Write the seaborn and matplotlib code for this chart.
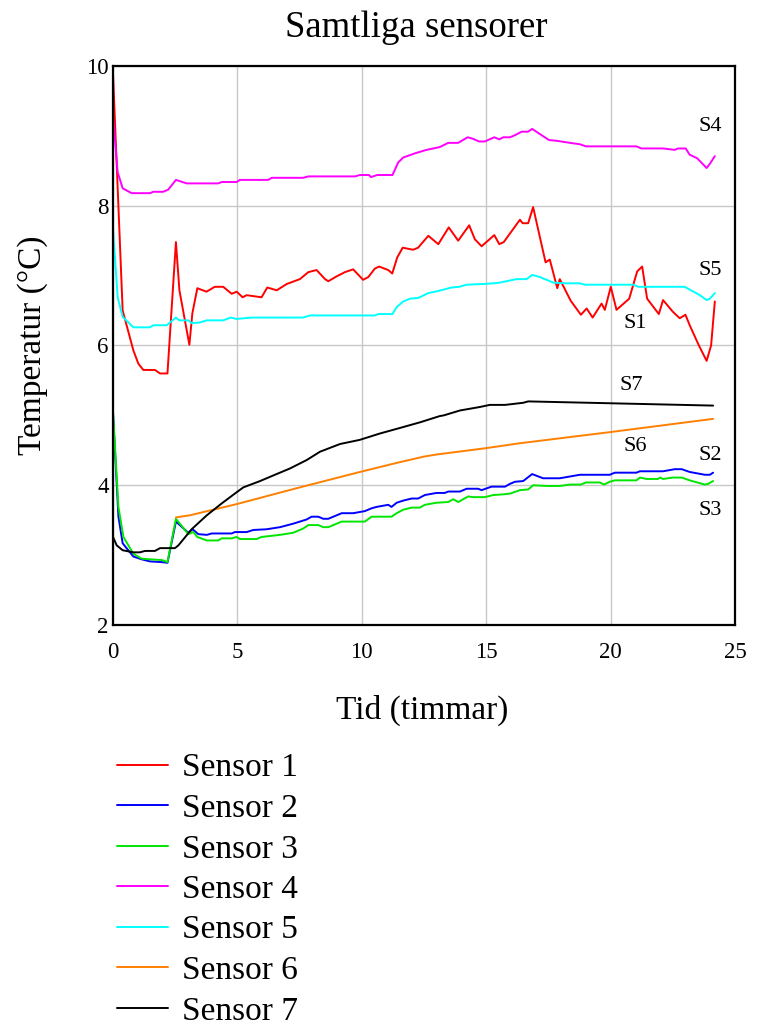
import matplotlib
matplotlib.use("Agg")
import matplotlib.pyplot as plt
from matplotlib.lines import Line2D
import seaborn as sns
import pandas as pd

# ---------------- data ----------------
s1_time = [0, 0.4, 0.83, 1.03, 1.23, 1.7, 1.9, 2.2, 2.54, 2.68,
           3.08, 3.2, 3.4, 3.77, 4.1, 4.44, 4.78, 4.98, 5.22, 5.38,
           5.98, 6.21, 6.59, 6.99, 7.52, 7.86, 8.19, 8.53, 8.66, 9.0,
           9.33, 9.66, 10.06, 10.27, 10.53, 10.7, 11.07, 11.23, 11.43, 11.65,
           12.07, 12.27, 12.68, 13.08, 13.5, 13.88, 14.32, 14.55, 14.82, 15.33,
           15.53, 15.71, 16.36, 16.47, 16.69, 16.89, 17.39, 17.56, 17.86, 17.96,
           18.4, 18.81, 19.04, 19.28, 19.64, 19.77, 20.01, 20.24, 20.75, 21.07,
           21.27, 21.47, 21.94, 22.11, 22.51, 22.78, 23.01, 23.18, 23.55, 23.86,
           24.04, 24.19]
s1_temp = [10, 6.5, 5.93, 5.74, 5.65, 5.65, 5.6, 5.6, 7.48, 6.79,
           6.01, 6.46, 6.82, 6.77, 6.84, 6.84, 6.74, 6.77, 6.69, 6.72,
           6.69, 6.83, 6.79, 6.88, 6.95, 7.05, 7.08, 6.95, 6.92, 6.99,
           7.05, 7.09, 6.94, 6.98, 7.1, 7.13, 7.08, 7.03, 7.26, 7.4,
           7.37, 7.4, 7.57, 7.45, 7.69, 7.5, 7.72, 7.52, 7.42, 7.58,
           7.45, 7.48, 7.8, 7.75, 7.75, 7.98, 7.19, 7.23, 6.82, 6.95,
           6.64, 6.44, 6.53, 6.4, 6.6, 6.51, 6.84, 6.51, 6.67, 7.06,
           7.13, 6.67, 6.45, 6.65, 6.48, 6.39, 6.44, 6.29, 6.0, 5.78,
           6.0, 6.63]

s2_time = [0, 0.23, 0.4, 0.83, 1.16, 1.5, 1.97, 2.2, 2.54, 3.04,
           3.21, 3.44, 3.78, 3.98, 4.78, 4.91, 5.38, 5.65, 6.18, 6.72,
           7.25, 7.79, 7.99, 8.26, 8.46, 8.66, 9.2, 9.66, 10.13, 10.4,
           10.6, 11.07, 11.2, 11.41, 11.67, 12.01, 12.27, 12.54, 13.01, 13.34,
           13.48, 13.95, 14.22, 14.68, 14.82, 15.22, 15.76, 15.96, 16.16, 16.49,
           16.85, 17.29, 17.96, 18.77, 19.97, 20.17, 21.04, 21.18, 22.11, 22.58,
           22.86, 23.18, 23.79, 23.99, 24.12]
s2_temp = [5.12, 3.55, 3.17, 2.98, 2.94, 2.91, 2.9, 2.89, 3.48, 3.32,
           3.37, 3.3, 3.29, 3.31, 3.31, 3.33, 3.33, 3.36, 3.37, 3.4,
           3.45, 3.51, 3.55, 3.55, 3.52, 3.52, 3.6, 3.6, 3.63, 3.67,
           3.69, 3.72, 3.69, 3.75, 3.78, 3.81, 3.81, 3.86, 3.89, 3.89,
           3.91, 3.91, 3.95, 3.95, 3.93, 3.98, 3.98, 4.02, 4.05, 4.06,
           4.16, 4.1, 4.1, 4.15, 4.15, 4.18, 4.18, 4.2, 4.2, 4.23,
           4.23, 4.19, 4.15, 4.15, 4.18]

s3_time = [0, 0.23, 0.43, 0.83, 1.16, 1.5, 1.97, 2.2, 2.54, 3.04,
           3.24, 3.4, 3.78, 4.24, 4.38, 4.78, 4.98, 5.11, 5.78, 5.98,
           6.72, 7.25, 7.65, 7.86, 8.26, 8.46, 8.66, 9.2, 10.13, 10.4,
           11.2, 11.41, 11.67, 12.01, 12.34, 12.54, 13.01, 13.48, 13.68, 13.88,
           14.28, 14.48, 14.95, 15.29, 15.69, 15.96, 16.36, 16.69, 16.89, 17.43,
           17.96, 18.37, 18.81, 19.01, 19.57, 19.74, 19.97, 20.17, 21.04, 21.18,
           21.45, 21.9, 22.0, 22.1, 22.51, 22.86, 23.18, 23.79, 23.92, 24.12]
s3_temp = [5.12, 3.69, 3.26, 3.02, 2.95, 2.94, 2.93, 2.9, 3.52, 3.3,
           3.33, 3.26, 3.21, 3.21, 3.24, 3.24, 3.26, 3.23, 3.23, 3.26,
           3.29, 3.32, 3.38, 3.43, 3.43, 3.4, 3.4, 3.48, 3.48, 3.55,
           3.55, 3.6, 3.65, 3.68, 3.68, 3.72, 3.75, 3.76, 3.8, 3.76,
           3.84, 3.83, 3.83, 3.86, 3.87, 3.88, 3.93, 3.94, 4.0, 3.99,
           3.99, 4.01, 4.01, 4.04, 4.04, 4.01, 4.05, 4.07, 4.07, 4.11,
           4.09, 4.09, 4.11, 4.09, 4.11, 4.11, 4.07, 4.01, 4.02, 4.06]

s4_time = [0, 0.2, 0.4, 0.76, 1.5, 1.63, 2.03, 2.23, 2.54, 2.97,
           4.24, 4.38, 4.98, 5.11, 6.25, 6.39, 7.65, 7.86, 9.73, 9.93,
           10.3, 10.37, 10.63, 11.24, 11.47, 11.67, 12.14, 12.61, 13.14, 13.48,
           13.88, 14.26, 14.46, 14.72, 14.95, 15.33, 15.53, 15.69, 15.96, 16.16,
           16.43, 16.69, 16.85, 17.23, 17.53, 17.83, 18.37, 18.77, 19.01, 21.04,
           21.24, 22.11, 22.58, 22.71, 23.02, 23.18, 23.48, 23.86, 23.99, 24.19]
s4_temp = [9.33, 8.48, 8.25, 8.18, 8.18, 8.2, 8.2, 8.23, 8.37, 8.32,
           8.32, 8.34, 8.34, 8.37, 8.37, 8.4, 8.4, 8.42, 8.42, 8.44,
           8.44, 8.41, 8.44, 8.44, 8.62, 8.69, 8.75, 8.8, 8.84, 8.9,
           8.9, 8.98, 8.96, 8.92, 8.92, 8.98, 8.95, 8.98, 8.98, 9.01,
           9.06, 9.06, 9.1, 9.01, 8.94, 8.93, 8.9, 8.88, 8.85, 8.85,
           8.82, 8.82, 8.8, 8.82, 8.82, 8.73, 8.68, 8.54, 8.6, 8.71]

s5_time = [0, 0.2, 0.4, 0.83, 1.5, 1.63, 2.17, 2.54, 2.68, 3.04,
           3.17, 3.5, 3.78, 4.44, 4.74, 4.98, 5.58, 7.65, 7.92, 10.53,
           10.67, 11.24, 11.41, 11.67, 11.94, 12.27, 12.68, 13.08, 13.61, 13.92,
           14.22, 14.88, 15.29, 15.55, 15.82, 16.22, 16.63, 16.85, 17.16, 17.7,
           18.23, 18.77, 18.97, 20.91, 21.11, 22.98, 23.18, 23.59, 23.86, 23.99,
           24.19]
s5_temp = [7.73, 6.69, 6.41, 6.26, 6.26, 6.29, 6.29, 6.4, 6.36, 6.36,
           6.32, 6.33, 6.36, 6.36, 6.4, 6.38, 6.4, 6.4, 6.43, 6.43,
           6.45, 6.45, 6.55, 6.63, 6.67, 6.68, 6.75, 6.78, 6.83, 6.84,
           6.87, 6.88, 6.89, 6.9, 6.92, 6.95, 6.95, 7.01, 6.98, 6.9,
           6.89, 6.89, 6.87, 6.87, 6.84, 6.84, 6.8, 6.72, 6.65, 6.67,
           6.75]

s6_time = [2.54, 3.1, 4.98, 7.52, 9.93, 11.41, 12.5, 13.01, 14.98, 16.33, 19.97, 24.12]
s6_temp = [3.54, 3.57, 3.73, 3.97, 4.19, 4.32, 4.41, 4.44, 4.53, 4.6, 4.76, 4.95]

s7_time = [0, 0.16, 0.4, 0.83, 1.09, 1.3, 1.7, 1.9, 2.5, 2.64,
           3.17, 3.78, 4.38, 4.98, 5.25, 5.92, 6.45, 7.12, 7.79, 8.33,
           9.13, 9.93, 10.73, 11.54, 12.34, 13.14, 13.3, 13.95, 14.75, 15.15,
           15.76, 16.49, 16.69, 24.12]
s7_temp = [3.27, 3.14, 3.07, 3.04, 3.04, 3.06, 3.06, 3.1, 3.1, 3.14,
           3.37, 3.57, 3.74, 3.9, 3.97, 4.06, 4.14, 4.24, 4.36, 4.48,
           4.59, 4.65, 4.74, 4.82, 4.9, 4.99, 5.0, 5.07, 5.12, 5.15,
           5.15, 5.18, 5.2, 5.14]

sensor_names = ["Sensor 1", "Sensor 2", "Sensor 3", "Sensor 4",
                "Sensor 5", "Sensor 6", "Sensor 7"]
sensor_colors = ["#FF0000", "#0000FF", "#00E600", "#FF00FF",
                 "#00FFFF", "#FF8000", "#000000"]

label_texts = ["S4", "S5", "S1", "S7", "S6", "S2", "S3"]
label_time = [24.0, 24.0, 20.98, 20.82, 20.98, 24.0, 24.0]
label_temp = [9.14, 7.07, 6.31, 5.43, 4.56, 4.43, 3.64]

x_ticks = [0, 5, 10, 15, 20, 25]
y_ticks = [2, 4, 6, 8, 10]

title_text = "Samtliga sensorer"
x_label = "Tid (timmar)"
y_label = "Temperatur (°C)"

# ---------------- build long table ----------------
series = [(s1_time, s1_temp), (s2_time, s2_temp), (s3_time, s3_temp),
          (s4_time, s4_temp), (s5_time, s5_temp), (s6_time, s6_temp),
          (s7_time, s7_temp)]
rows = []
for name, (tt, vv) in zip(sensor_names, series):
    for t, v in zip(tt, vv):
        rows.append({"Tid": t, "Temp": v, "Sensor": name})
df = pd.DataFrame(rows)

# ---------------- style ----------------
sns.set_style("white")
plt.rcParams["font.family"] = ["Liberation Serif", "DejaVu Serif"]
plt.rcParams["text.color"] = "black"
plt.rcParams["axes.labelcolor"] = "black"
plt.rcParams["xtick.color"] = "black"
plt.rcParams["ytick.color"] = "black"

W, H = 757, 1026
fig = plt.figure(figsize=(W / 100, H / 100), dpi=100)
ax = fig.add_axes([112.7 / W, 1 - 625 / H, (735 - 112.7) / W, (625 - 66) / H])

palette = dict(zip(sensor_names, sensor_colors))
sns.lineplot(data=df, x="Tid", y="Temp", hue="Sensor", hue_order=sensor_names,
             palette=palette, estimator=None, legend=False, linewidth=1.4, ax=ax)

ax.set_xlim(0, 25)
ax.set_ylim(2, 10)
ax.set_xticks(x_ticks)
ax.set_yticks(y_ticks)
ax.set_xticklabels([str(v) for v in x_ticks])
ax.set_yticklabels([str(v) for v in y_ticks])
ax.tick_params(axis="both", length=0, labelsize=16.5, colors="black")
ax.tick_params(axis="x", pad=12)
ax.tick_params(axis="y", pad=3)
ax.grid(True, color="#C8C8C8", linewidth=1.0)
ax.set_axisbelow(True)
for sp in ax.spines.values():
    sp.set_visible(True)
    sp.set_color("black")
    sp.set_linewidth(1.6)

ax.set_xlabel(x_label, fontsize=24, color="black")
ax.set_ylabel(y_label, fontsize=24, color="black")
ax.xaxis.set_label_coords(0.497, -0.125)
ax.yaxis.set_label_coords(-0.104, 0.5)

for txt, tx, ty in zip(label_texts, label_time, label_temp):
    ax.text(tx, ty, txt, fontsize=16, ha="center", va="center", color="black")

fig.text(416 / W, 1 - 37 / H, title_text, fontsize=26.5, ha="center",
         va="baseline", color="black")

handles = [Line2D([0], [0], color=c, linewidth=1.4) for c in sensor_colors]
fig.legend(handles, sensor_names, loc="upper left",
           bbox_to_anchor=(117 / W, 1 - 753 / H), frameon=False,
           fontsize=24, handlelength=1.53, handletextpad=0.42,
           labelspacing=0.3, borderpad=0, borderaxespad=0,
           labelcolor="black")

fig.savefig("out.png", dpi=100)
